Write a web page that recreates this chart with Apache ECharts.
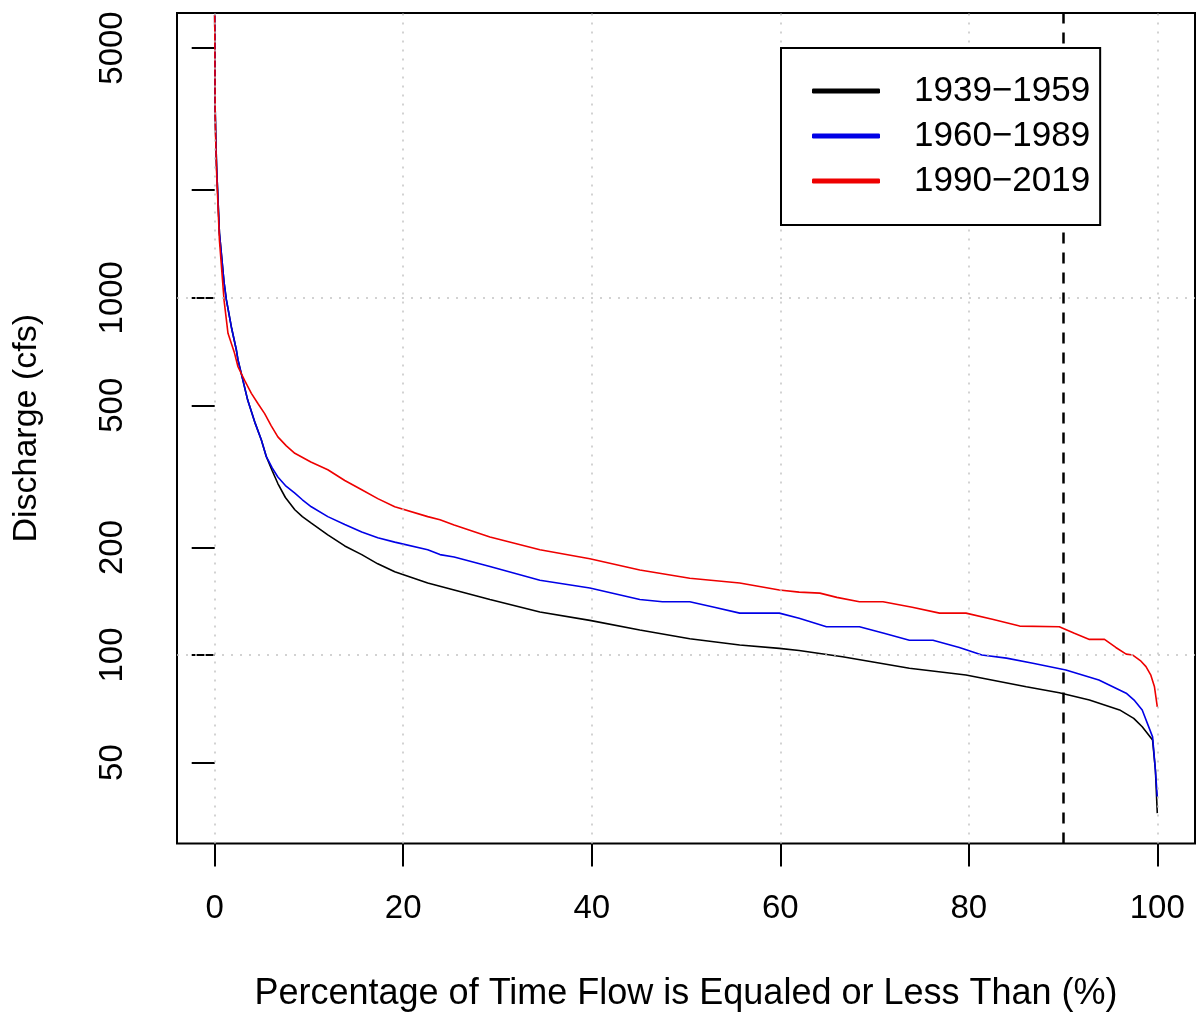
<!DOCTYPE html>
<html>
<head>
<meta charset="utf-8">
<script src="https://cdn.jsdelivr.net/npm/echarts@6/dist/echarts.min.js"></script>
<style>html,body{margin:0;padding:0;background:#fff;}#c{width:1197px;height:1019px;}</style>
</head>
<body>
<div id="c"></div>
<script>
// ---- data ----
const seriesNames = ['1939\u22121959', '1960\u22121989', '1990\u22122019'];
const xTicks = [0, 20, 40, 60, 80, 100];
const yTicks = [50, 100, 200, 500, 1000, 2000, 5000];
const yLabels = [50, 100, 200, 500, 1000, 5000];
const yGrid = [100, 1000];
const refLineX = 90;

const pctBlack = [0, 0.05, 0.1, 0.2, 0.5, 1.0, 1.24, 1.8, 2.3, 2.47, 3.5, 4.3, 4.95, 5.48, 6.1, 6.7, 7.5, 8.5, 9.3, 10.25, 12, 13.8, 15.6, 17.3, 19.1, 22.6, 25.4, 29.2, 34.5, 39.8, 45.1, 50.4, 55.7, 59.9, 62, 64.2, 66.6, 70, 73.7, 79.7, 86.1, 89.6, 92.8, 96, 97.5, 98.4, 99.5, 99.8, 100];
const qBlack = [6200, 3400, 2900, 2330, 1520, 1100, 986, 820, 714, 670, 517, 445, 400, 359, 328, 302, 276, 255, 244, 234, 217, 202, 191, 180, 171, 159, 152, 143, 132, 125, 117.5, 111, 106.7, 104.4, 103, 101, 98.9, 95.5, 91.8, 87.9, 81.5, 78.4, 74.8, 70.2, 66.5, 63, 57.8, 47.6, 36.1];

const pctBlue = [0, 0.05, 0.1, 0.2, 0.5, 1.0, 1.24, 1.8, 2.3, 2.47, 3.5, 4.3, 4.95, 5.48, 6.1, 6.7, 7.5, 8.5, 9.3, 10.25, 12, 13.8, 15.6, 17.3, 19.1, 22.6, 23.9, 25.4, 29.2, 34.5, 39.8, 45.1, 47.5, 50.4, 53, 55.7, 59.9, 62, 64.9, 68.4, 71, 73.7, 76.2, 79, 81.4, 84, 86.8, 90.3, 93.8, 96.7, 97.6, 98.4, 99.5, 99.8, 100];
const qBlue = [6200, 3400, 2900, 2330, 1520, 1100, 986, 820, 714, 670, 517, 445, 400, 359, 334, 315, 298, 284, 272, 260, 244, 232, 221, 213, 207, 197, 191, 188, 177, 162, 154, 143, 141, 141, 136, 131, 131, 126.7, 120, 120, 115, 110, 110, 105, 100, 98, 94.8, 90.8, 85.1, 78.2, 74.5, 70.2, 59, 47.6, 40.1];

const pctRed = [0, 0.05, 0.1, 0.2, 0.5, 1.0, 1.41, 2.1, 2.47, 3.2, 3.89, 4.6, 5.3, 6.0, 6.7, 7.6, 8.5, 10.2, 12, 13.8, 15.6, 17.3, 19.1, 22.6, 23.9, 25.4, 29.2, 34.5, 39.8, 45.1, 50.4, 55.7, 59.9, 62, 64.2, 66, 68.4, 70.9, 74, 76.9, 79.7, 82.5, 85.4, 89.6, 91.2, 92.8, 94.4, 95.6, 96.7, 97.4, 98.2, 98.8, 99.3, 99.7, 100];
const qRed = [6200, 3300, 2800, 2250, 1450, 980, 795, 700, 641, 585, 540, 505, 474, 438, 408, 385, 367, 347, 330, 308, 290, 274, 260, 244, 239, 231, 214, 197, 186, 173, 164, 159, 152, 150, 149, 145, 141, 141, 136, 131, 131, 126, 120.5, 120, 115, 110.6, 110.6, 105, 100.6, 100, 96.5, 92.8, 88, 81.5, 71.6];

function pairs(xs, ys) { return xs.map((x, i) => [x, ys[i]]); }

const FONT = '"Liberation Sans", Arial, sans-serif';
const chart = echarts.init(document.getElementById('c'), null, { renderer: 'canvas' });

const gridLineStyle = { color: '#C4C4C4', width: 1.5, type: [2, 7] };

chart.setOption({
  backgroundColor: '#ffffff',
  animation: false,
  textStyle: { fontFamily: FONT, color: '#000' },
  grid: {
    left: 177, right: 2, top: 13, bottom: 175.5,
    show: true, borderColor: '#000', borderWidth: 2, backgroundColor: 'transparent'
  },
  legend: {
    orient: 'vertical',
    left: 781, top: 48, z: 20,
    data: seriesNames,
    icon: 'roundRect',
    itemWidth: 68, itemHeight: 5, itemGap: 5,
    padding: [23, 10, 24, 31],
    backgroundColor: '#ffffff',
    borderColor: '#000', borderWidth: 2, borderRadius: 0,
    textStyle: { fontFamily: FONT, fontSize: 35, color: '#000', lineHeight: 40, padding: [0, 0, 0, 29] },
    selectedMode: false
  },
  xAxis: {
    type: 'value', min: -4, max: 104,
    name: 'Percentage of Time Flow is Equaled or Less Than (%)',
    nameLocation: 'middle', nameGap: 133,
    nameTextStyle: { fontFamily: FONT, fontSize: 36, color: '#000' },
    axisLine: { show: false },
    axisTick: { show: true, length: 23, lineStyle: { color: '#000', width: 2 }, customValues: xTicks },
    axisLabel: { fontFamily: FONT, fontSize: 33, color: '#000', margin: 49, customValues: xTicks,
                 formatter: v => String(Math.round(v)) },
    splitLine: { show: false }
  },
  yAxis: {
    type: 'log', logBase: 10, min: 29.68, max: 6266,
    name: 'Discharge (cfs)',
    nameLocation: 'middle', nameGap: 133,
    nameTextStyle: { fontFamily: FONT, fontSize: 34, color: '#000' },
    axisLine: { show: false },
    axisTick: { show: true, length: 23, lineStyle: { color: '#000', width: 2 }, customValues: yTicks },
    axisLabel: { fontFamily: FONT, fontSize: 33, color: '#000', margin: 48, rotate: 90, customValues: yLabels,
                 formatter: v => String(Math.round(v)) },
    splitLine: { show: false },
    minorTick: { show: false }
  },
  series: [
    {
      type: 'line', name: '__grid', data: [], z: 1, silent: true,
      markLine: {
        silent: true, symbol: ['none', 'none'], label: { show: false },
        lineStyle: gridLineStyle, animation: false,
        data: xTicks.map(v => ({ xAxis: v })).concat(yGrid.map(v => ({ yAxis: v })))
      }
    },
    {
      name: seriesNames[0], type: 'line', data: pairs(pctBlack, qBlack), z: 2,
      showSymbol: false, symbol: 'none', color: '#000000',
      lineStyle: { color: '#000000', width: 1.6 }
    },
    {
      name: seriesNames[1], type: 'line', data: pairs(pctBlue, qBlue), z: 3,
      showSymbol: false, symbol: 'none', color: '#0000E6',
      lineStyle: { color: '#0000E6', width: 1.6 }
    },
    {
      name: seriesNames[2], type: 'line', data: pairs(pctRed, qRed), z: 4,
      showSymbol: false, symbol: 'none', color: '#EE0000',
      lineStyle: { color: '#EE0000', width: 1.6 },
      markLine: {
        silent: true, symbol: ['none', 'none'], label: { show: false },
        lineStyle: { color: '#000', width: 2.5, type: [11, 9] },
        data: [{ xAxis: refLineX }]
      }
    }
  ]
});
</script>
</body>
</html>
